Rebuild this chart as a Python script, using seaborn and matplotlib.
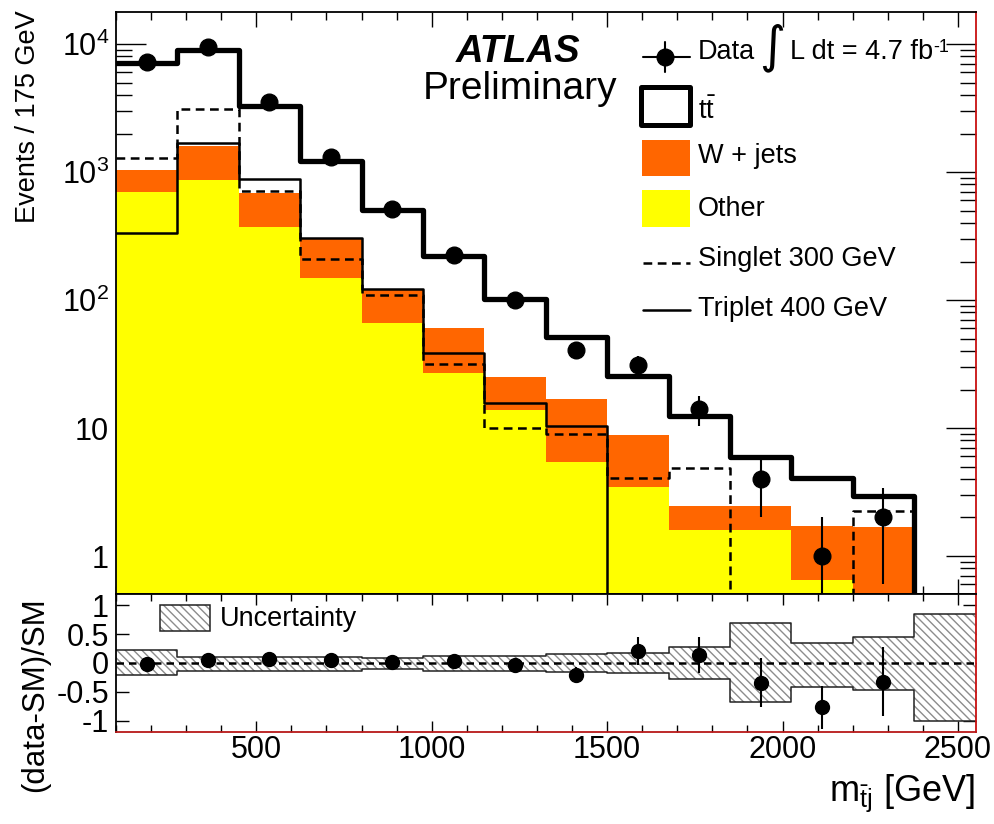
import numpy as np
import matplotlib
matplotlib.use("Agg")
import matplotlib.pyplot as plt
import seaborn as sns
from matplotlib.lines import Line2D
from matplotlib.patches import Rectangle
from matplotlib.ticker import (LogLocator, MultipleLocator, FixedLocator,
                               FixedFormatter, FuncFormatter, NullFormatter, NullLocator)

# ---------------- data ----------------
bin_edges = [100, 275, 450, 625, 800, 975, 1150, 1325, 1500, 1675, 1850, 2025, 2200, 2375, 2550]
other = [700, 870, 370, 148, 66, 27, 13.8, 5.4, 3.46, 1.6, 1.6, 0.65, 0, 0]
wjets = [340, 730, 320, 152, 55, 33, 11.2, 11.4, 5.34, 0.85, 0.85, 1.07, 1.68, 0]
ttbar = [6060, 7350, 2610, 930, 384, 162, 76, 34.7, 16.7, 10.05, 3.45, 2.38, 1.26, 0]
singlet = [1290, 3100, 713, 209, 110, 31.6, 10, 9, 4.1, 4.9, 0, 0, 2.25, 0]
triplet = [333, 1690, 885, 305, 122, 38.5, 15.7, 10.4, 0, 0, 0, 0, 0, 0]
data = [7200, 9500, 3550, 1310, 515, 226, 100, 41, 31, 14, 4, 1, 2]
data_err = [85, 97, 60, 36, 23, 15, 10, 6.4, 5.6, 3.7, 2.0, 1.0, 1.4]
ratio = [-0.02, 0.05, 0.07, 0.05, 0.02, 0.04, -0.03, -0.20, 0.20, 0.13, -0.34, -0.76, -0.32]
ratio_err = [0.01, 0.01, 0.02, 0.03, 0.04, 0.07, 0.10, 0.13, 0.24, 0.31, 0.42, 0.37, 0.60]
unc_up = [0.22, 0.11, 0.11, 0.11, 0.09, 0.125, 0.125, 0.15, 0.17, 0.27, 0.69, 0.35, 0.44, 0.85]
unc_dn = [0.20, 0.13, 0.13, 0.13, 0.10, 0.14, 0.13, 0.15, 0.17, 0.27, 0.68, 0.41, 0.47, 1.00]
xticks = [500, 1000, 1500, 2000, 2500]
ratio_ticks = [-1, -0.5, 0, 0.5, 1]
ratio_ticklabels = ["-1", "-0.5", "0", "0.5", "1"]

# ---------------- style ----------------
sns.set_theme(style="ticks")
plt.rcParams["font.family"] = ["Liberation Sans", "DejaVu Sans"]
plt.rcParams["mathtext.fontset"] = "custom"
plt.rcParams["mathtext.rm"] = "Liberation Sans"
plt.rcParams["mathtext.it"] = "Liberation Sans:italic"
plt.rcParams["mathtext.bf"] = "Liberation Sans:bold"
plt.rcParams["mathtext.default"] = "regular"
plt.rcParams["axes.unicode_minus"] = False
plt.rcParams["hatch.linewidth"] = 1.0
for k in ("text.color", "axes.labelcolor", "xtick.color", "ytick.color",
          "xtick.labelcolor", "ytick.labelcolor", "axes.edgecolor"):
    plt.rcParams[k] = "black"

W, H = 994, 824
def fx(px):
    return px / W
def fy(py):
    return 1 - py / H

ORANGE = "#ff6600"
YELLOW = "#ffff00"
FS = 19.5
TFS = 22

fig = plt.figure(figsize=(W / 100, H / 100), dpi=100)
ax = fig.add_axes([fx(116), fy(594), fx(975.5) - fx(116), fy(12) - fy(594)])
ax2 = fig.add_axes([fx(116), fy(732), fx(975.5) - fx(116), fy(594) - fy(732)])

edges = np.array(bin_edges, dtype=float)
centers = 0.5 * (edges[:-1] + edges[1:])
orange_top = np.add(other, wjets)
total = orange_top + np.array(ttbar)

# ---------------- main panel ----------------
sns.histplot(x=centers, weights=orange_top, bins=bin_edges, element="step", fill=True,
             color=ORANGE, alpha=1, linewidth=0, ax=ax, zorder=1)
sns.histplot(x=centers, weights=other, bins=bin_edges, element="step", fill=True,
             color=YELLOW, alpha=1, linewidth=0, ax=ax, zorder=1)
sns.histplot(x=centers, weights=triplet, bins=bin_edges, element="step", fill=False,
             color="black", linewidth=1.8, ax=ax, zorder=3)
sns.histplot(x=centers, weights=singlet, bins=bin_edges, element="step", fill=False,
             color="black", linewidth=1.8, linestyle=(0, (3.5, 2.2)), ax=ax, zorder=3)
sns.histplot(x=centers, weights=total, bins=bin_edges, element="step", fill=False,
             color="black", linewidth=3.8, ax=ax, zorder=4)
ax.errorbar(centers[:len(data)], data, yerr=data_err, fmt="o", color="black", ms=12,
            elinewidth=1.5, capsize=0, zorder=5)

ax.set_yscale("log")
ax.set_xlim(bin_edges[0], bin_edges[-1])
ax.set_ylim(0.505, 1.78e4)
ax.set_xlabel("")
ax.set_ylabel("")

def log_fmt(v, pos):
    e = int(round(np.log10(v)))
    if e == 0:
        return "1"
    if e == 1:
        return "10"
    return r"$10^{%d}$" % e

ax.yaxis.set_major_locator(LogLocator(base=10, numticks=10))
ax.yaxis.set_minor_locator(LogLocator(base=10, subs=np.arange(2, 10), numticks=20))
ax.yaxis.set_major_formatter(FuncFormatter(log_fmt))
ax.yaxis.set_minor_formatter(NullFormatter())
ax.xaxis.set_major_locator(FixedLocator(xticks))
ax.xaxis.set_minor_locator(MultipleLocator(100))
ax.tick_params(axis="y", which="major", direction="in", length=21.6, width=1.0,
               left=True, right=True, labelsize=TFS, pad=5, colors="black")
ax.tick_params(axis="y", which="minor", direction="in", length=11.3, width=1.0,
               left=True, right=True, colors="black")
ax.tick_params(axis="x", which="major", direction="in", length=10.8, width=1.0,
               top=True, bottom=True, labelbottom=False, colors="black")
ax.tick_params(axis="x", which="minor", direction="in", length=5.8, width=1.0,
               top=True, bottom=True, colors="black")

# ---------------- ratio panel ----------------
up_ext = np.append(unc_up, unc_up[-1])
dn_ext = -np.append(unc_dn, unc_dn[-1])
ax2.fill_between(edges, dn_ext, up_ext, step="post", facecolor="white",
                 edgecolor="#8c8c8c", hatch="\\\\\\\\", linewidth=0, zorder=1)
ax2.step(edges, up_ext, where="post", color="#222222", lw=1.1, zorder=2)
ax2.step(edges, dn_ext, where="post", color="#222222", lw=1.1, zorder=2)
ax2.axhline(0, color="black", lw=1.8, ls=(0, (3, 2)), zorder=3)
ax2.errorbar(centers[:len(ratio)], ratio, yerr=ratio_err, fmt="o", color="black",
             ms=10, elinewidth=1.5, capsize=0, zorder=5)
ax2.set_xlim(bin_edges[0], bin_edges[-1])
ax2.set_ylim(-1.19, 1.19)
ax2.yaxis.set_major_locator(FixedLocator(ratio_ticks))
ax2.yaxis.set_major_formatter(FixedFormatter(ratio_ticklabels))
ax2.yaxis.set_minor_locator(NullLocator())
ax2.xaxis.set_major_locator(FixedLocator(xticks))
ax2.xaxis.set_minor_locator(MultipleLocator(100))
ax2.tick_params(axis="y", which="major", direction="in", length=9.4, width=1.0,
                left=True, right=True, labelsize=TFS, pad=5, colors="black")
ax2.tick_params(axis="x", which="major", direction="in", length=8, width=1.0,
                top=True, bottom=True, labelsize=TFS, pad=2.5, colors="black")
ax2.tick_params(axis="x", which="minor", direction="in", length=5, width=1.0,
                top=True, bottom=True, colors="black")

for a in (ax, ax2):
    for s in a.spines.values():
        s.set_linewidth(1.3)
        s.set_color("black")
    a.spines["right"].set_color("#c81010")
ax2.spines["bottom"].set_color("#b81818")

# ---------------- texts ----------------
fig.text(fx(28), fy(10), "Events / 175 GeV", rotation=90, ha="center", va="top", fontsize=FS)
fig.text(fx(35), fy(597), "(data-SM)/SM", rotation=90, ha="center", va="top", fontsize=22.5)
fig.text(fx(975), fy(801), r"m$_{\bar{\mathrm{t}}\mathrm{j}}$ [GeV]", ha="right",
         va="baseline", fontsize=26)
fig.text(fx(518), fy(62), "ATLAS", ha="center", va="baseline", fontsize=27.5,
         fontweight="bold", fontstyle="italic")
fig.text(fx(520), fy(99), "Preliminary", ha="center", va="baseline", fontsize=28)

# ---------------- legend (main) ----------------
lx0, lx1, lxt = 643, 690, 698
fig.add_artist(Line2D([fx(lx0), fx(lx1)], [fy(57), fy(57)], color="black", lw=1.5))
fig.add_artist(Line2D([fx(665), fx(665)], [fy(42), fy(72)], color="black", lw=1.5))
fig.add_artist(Line2D([fx(665)], [fy(57)], marker="o", ms=12, color="black", lw=0))
fig.text(fx(lxt), fy(59), "Data", ha="left", va="baseline", fontsize=FS)
fig.text(fx(772), fy(48), "\u222b", ha="center", va="center", fontsize=36,
         family=["DejaVu Sans"])
fig.text(fx(790), fy(59), "L dt = 4.7 fb", ha="left", va="baseline", fontsize=FS)
fig.text(fx(933), fy(52), "-1", ha="left", va="baseline", fontsize=13)

fig.add_artist(Rectangle((fx(641), fy(125)), fx(49), 38 / H, transform=fig.transFigure,
                         facecolor="white", edgecolor="black", lw=3.6, joinstyle="round"))
fig.text(fx(lxt), fy(119), r"t$\bar{\mathrm{t}}$", ha="left", va="baseline", fontsize=FS)
fig.add_artist(Rectangle((fx(642), fy(176)), fx(48), 36 / H, transform=fig.transFigure,
                         facecolor=ORANGE, edgecolor="none"))
fig.text(fx(lxt), fy(163), "W + jets", ha="left", va="baseline", fontsize=FS)
fig.add_artist(Rectangle((fx(642), fy(227)), fx(48), 37 / H, transform=fig.transFigure,
                         facecolor=YELLOW, edgecolor="none"))
fig.text(fx(lxt), fy(216), "Other", ha="left", va="baseline", fontsize=FS)
fig.add_artist(Line2D([fx(lx0), fx(lx1)], [fy(263), fy(263)], color="black", lw=1.8,
                      ls=(0, (3.5, 2.2))))
fig.text(fx(lxt), fy(266), "Singlet 300 GeV", ha="left", va="baseline", fontsize=FS)
fig.add_artist(Line2D([fx(lx0), fx(lx1)], [fy(310), fy(310)], color="black", lw=1.8))
fig.text(fx(lxt), fy(316), "Triplet 400 GeV", ha="left", va="baseline", fontsize=FS)

# ---------------- legend (ratio) ----------------
fig.add_artist(Rectangle((fx(160), fy(631)), fx(50), 26 / H, transform=fig.transFigure,
                         facecolor="white", edgecolor="#8c8c8c", hatch="\\\\\\\\", lw=0))
fig.add_artist(Rectangle((fx(160), fy(631)), fx(50), 26 / H, transform=fig.transFigure,
                         facecolor="none", edgecolor="#222222", lw=1.1))
fig.text(fx(220), fy(626), "Uncertainty", ha="left", va="baseline", fontsize=FS)

fig.savefig("out.png", dpi=100)
